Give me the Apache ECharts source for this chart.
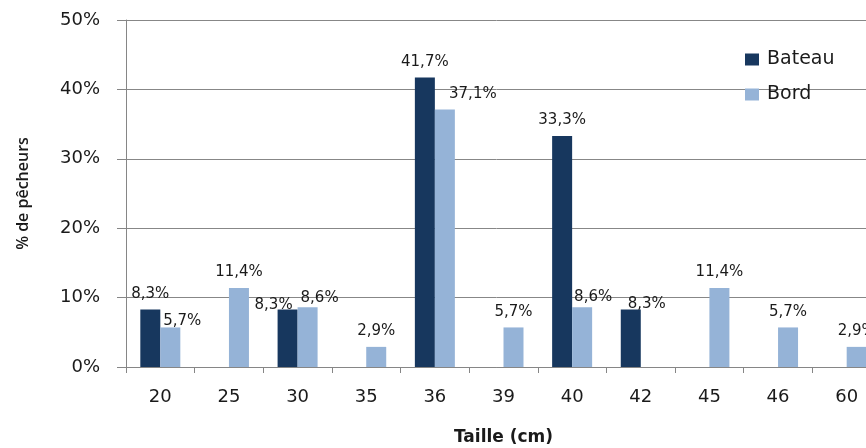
<!DOCTYPE html>
<html>
<head>
<meta charset="utf-8">
<script src="https://cdn.jsdelivr.net/npm/echarts@6/dist/echarts.min.js"></script>
<style>
  html, body { margin: 0; padding: 0; background: #fff; }
  #chartDiv { width: 866px; height: 448px; }
</style>
</head>
<body>
<div id="chartDiv"></div>
<script>
// tailles (cm)
var categories = ['20', '25', '30', '35', '36', '39', '40', '42', '45', '46', '60'];
// % de pêcheurs
var bateau = [8.3, null, 8.3, null, 41.7, null, 33.3, 8.3, null, null, null];
var bord = [5.7, 11.4, 8.6, 2.9, 37.1, 5.7, 8.6, null, 11.4, 5.7, 2.9];
var yTicks = [0, 10, 20, 30, 40, 50];

// petits decalages d'etiquettes (comme dans Excel, pour eviter les chevauchements)
var nudgeBateau = { 2: [-14, 11], 7: [16, 10] };
var nudgeBord = { 0: [12, 9], 2: [12, 6], 4: [28, 0], 6: [11, 5] };

function fmt(p) {
	return p.value.toFixed(1).replace('.', ',') + '%';
}
function buildData(arr, nudge) {
	var out = [];
	for (var j = 0; j < arr.length; j++) {
		if (arr[j] == null) { out.push('-'); continue; }
		var item = { value: arr[j] };
		if (nudge[j]) item.label = { offset: nudge[j] };
		out.push(item);
	}
	return out;
}

var lbl = {
	show: true,
	position: 'top',
	distance: 8,
	formatter: fmt,
	fontFamily: 'DejaVu Sans',
	fontSize: 15,
	color: '#1a1a1a'
};

option = {
	backgroundColor: '#ffffff',
	animation: false,
	legend: {
		orient: 'vertical',
		left: 740,
		top: 45,
		itemWidth: 14,
		itemHeight: 12,
		itemGap: 16,
		icon: 'rect',
		textStyle: { fontFamily: 'DejaVu Sans', fontSize: 19, color: '#1a1a1a', padding: [0, 0, 0, 3] },
		data: ['Bateau', 'Bord']
	},
	grid: {
		left: 126,
		top: 20,
		width: 755,
		height: 347,
		outerBoundsMode: 'none'
	},
	xAxis: {
		type: 'category',
		data: categories,
		name: 'Taille (cm)',
		nameLocation: 'middle',
		nameGap: 62,
		nameTextStyle: { fontFamily: 'DejaVu Sans', fontWeight: 'bold', fontSize: 17, color: '#1a1a1a' },
		axisLine: { lineStyle: { color: '#868686' } },
		axisTick: { show: true, length: 6, alignWithLabel: false, lineStyle: { color: '#868686' } },
		axisLabel: { fontFamily: 'DejaVu Sans', fontSize: 18, color: '#1a1a1a', margin: 21 }
	},
	yAxis: {
		type: 'value',
		min: yTicks[0],
		max: yTicks[yTicks.length - 1],
		interval: yTicks[1] - yTicks[0],
		name: '% de pêcheurs',
		nameLocation: 'middle',
		nameGap: 95,
		nameTextStyle: { fontFamily: 'Open Sans', fontWeight: 600, fontSize: 16, color: '#1a1a1a' },
		axisLine: { show: true, lineStyle: { color: '#868686' } },
		axisTick: { show: true, length: 9, lineStyle: { color: '#868686' } },
		axisLabel: { formatter: '{value}%', fontFamily: 'DejaVu Sans', fontSize: 18, color: '#1a1a1a', margin: 26 },
		splitLine: { show: true, lineStyle: { color: '#878787' } }
	},
	series: [
		{
			name: 'Bateau',
			type: 'bar',
			barWidth: 20,
			barGap: '0%',
			itemStyle: { color: '#17375E' },
			label: lbl,
			data: buildData(bateau, nudgeBateau)
		},
		{
			name: 'Bord',
			type: 'bar',
			barWidth: 20,
			barGap: '0%',
			itemStyle: { color: '#95B3D7' },
			label: lbl,
			data: buildData(bord, nudgeBord)
		}
	]
};

var myCharts1 = echarts.init(document.getElementById('chartDiv'));
myCharts1.setOption(option, true);
</script>
</body>
</html>
